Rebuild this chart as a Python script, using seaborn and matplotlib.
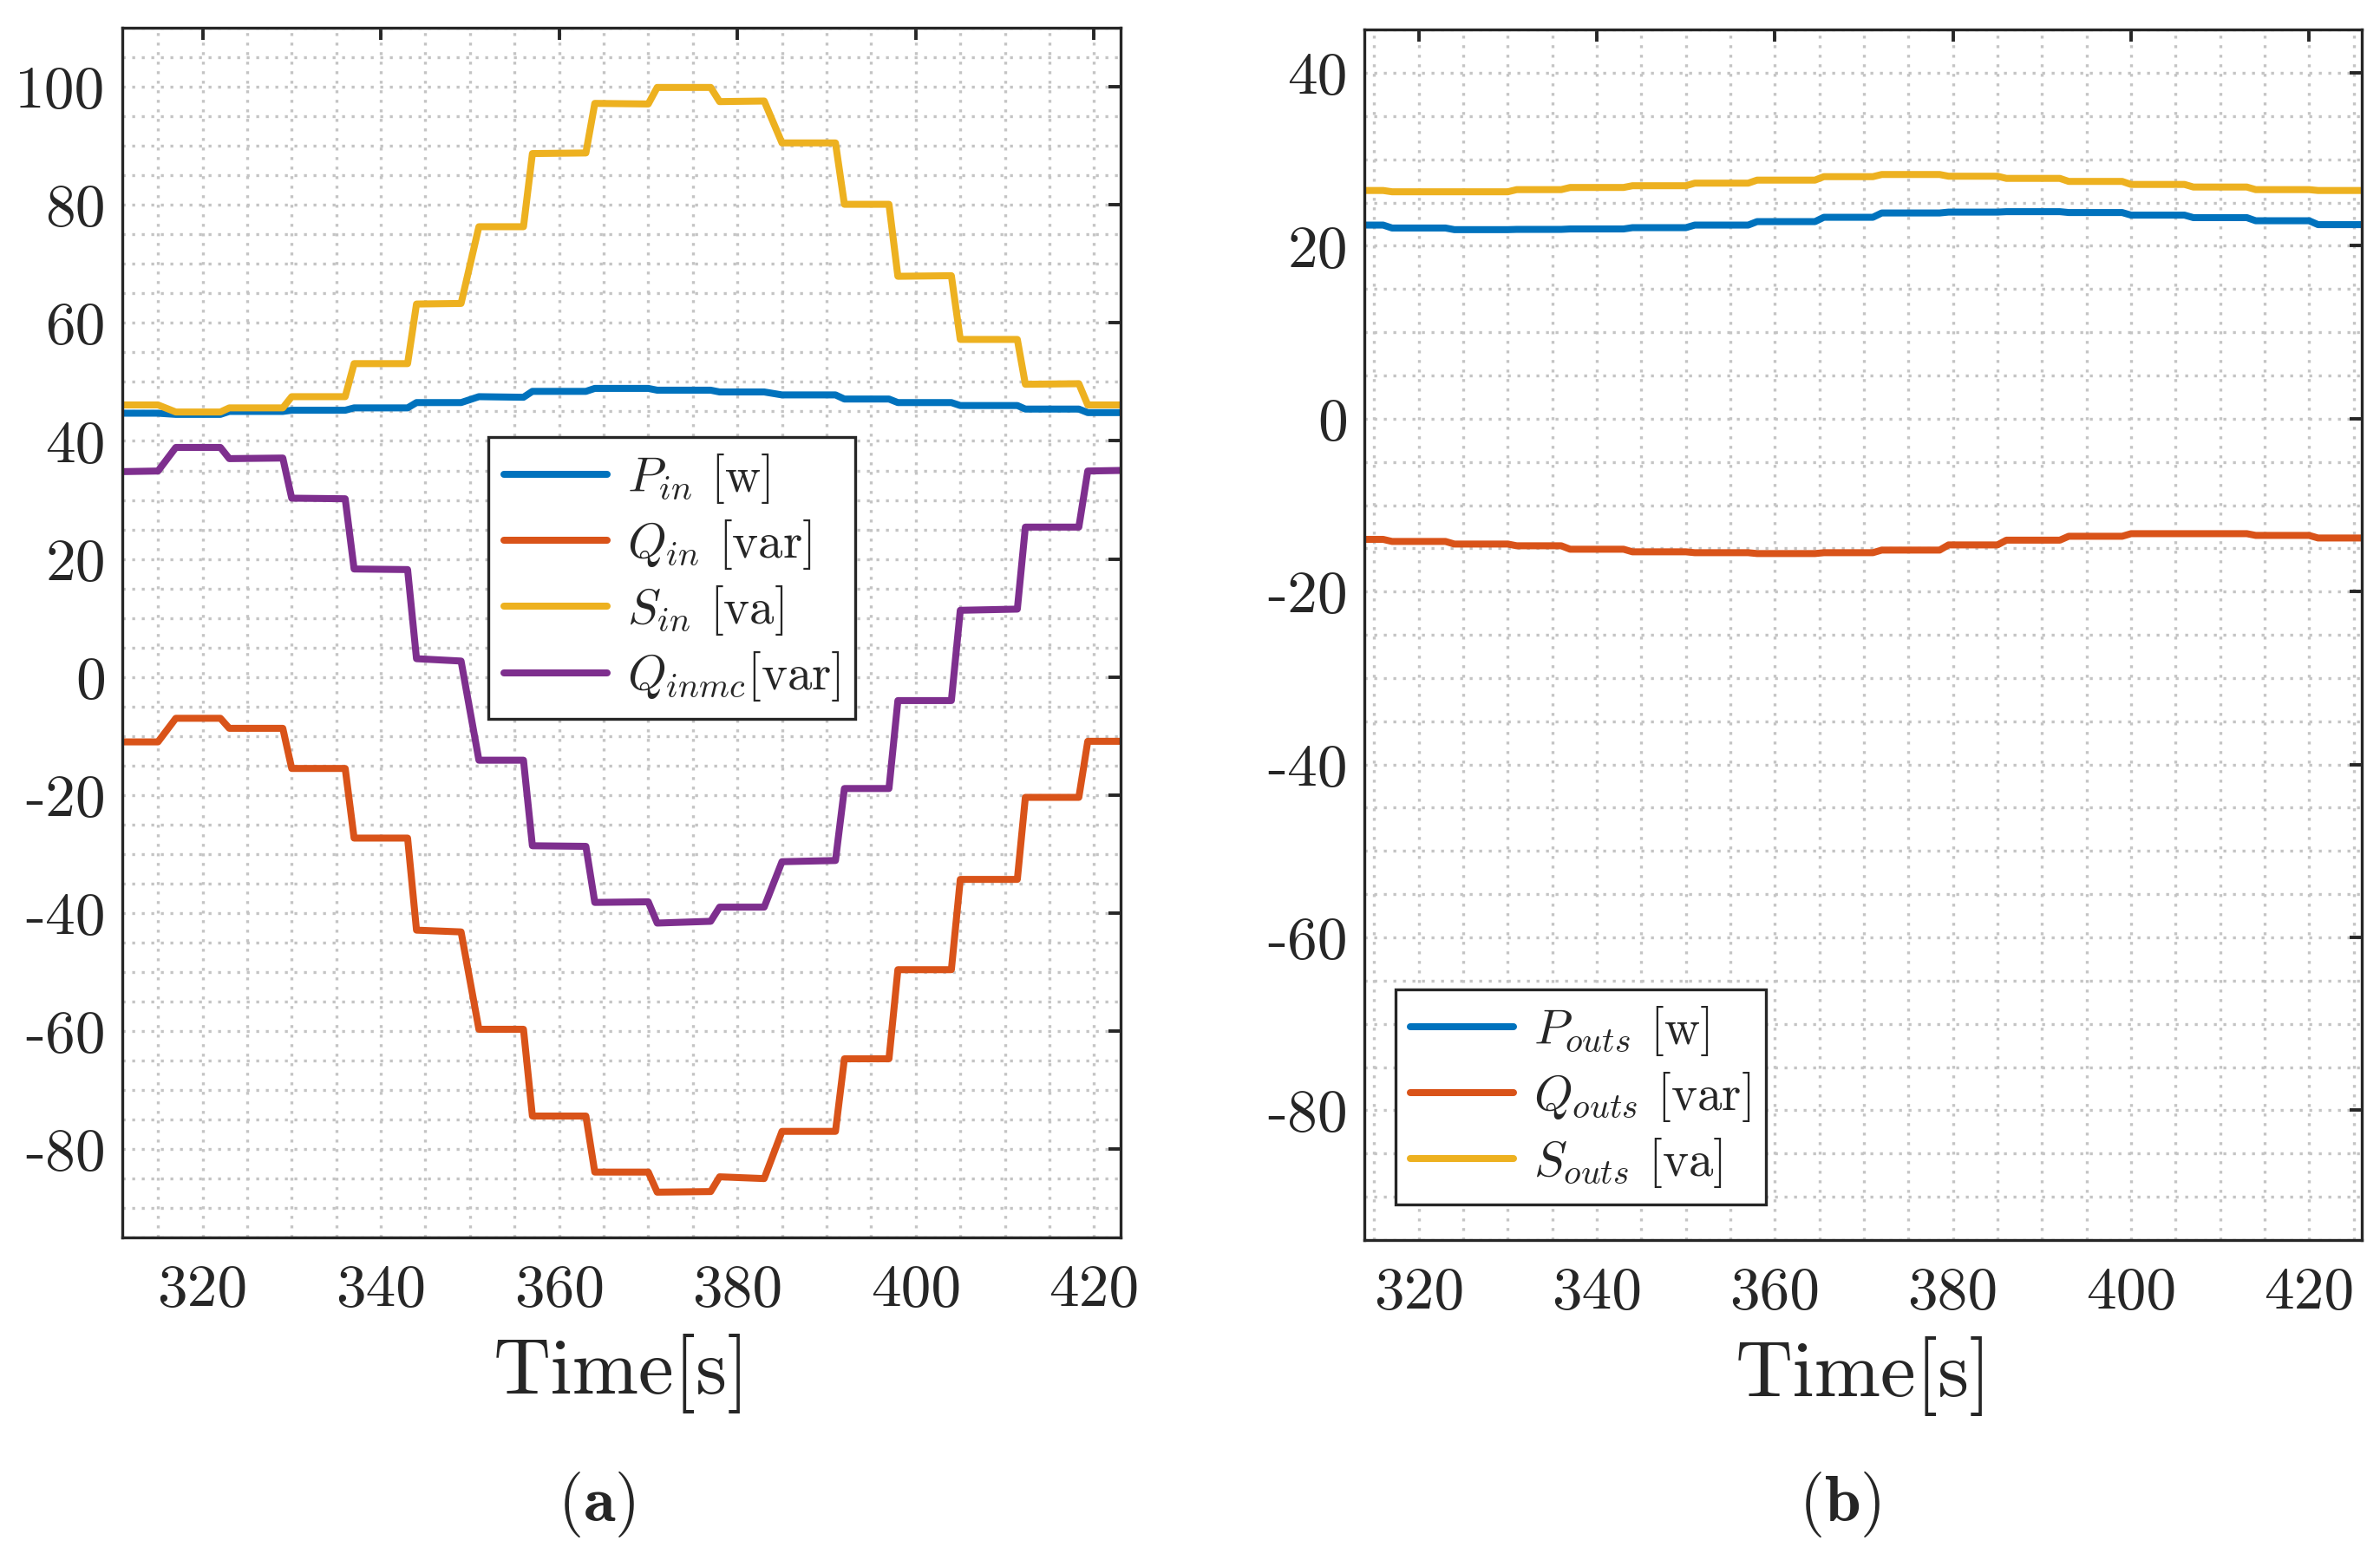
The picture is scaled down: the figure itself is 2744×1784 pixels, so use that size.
import matplotlib
matplotlib.use("Agg")
import matplotlib.pyplot as plt
from matplotlib.ticker import MultipleLocator
import seaborn as sns

# ---------------------------------------------------------------------
# Dados (patamares: início/fim de cada degrau)
# ---------------------------------------------------------------------
# (a) grandezas de entrada
tempo_a = [311, 315, 317, 322, 323, 329, 330, 336, 337, 343, 344, 349, 351, 356,
           357, 363, 364, 370, 371, 377, 378, 383, 385, 391, 392, 397, 398, 404,
           405, 411.4, 412.3, 418.3, 419.3, 423]
p_in = [44.7, 44.7, 44.5, 44.5, 45.0, 45.0, 45.2, 45.2, 45.6, 45.6, 46.5, 46.5,
        47.5, 47.4, 48.4, 48.4, 48.9, 48.9, 48.6, 48.6, 48.3, 48.3, 47.8, 47.8,
        47.1, 47.1, 46.5, 46.5, 46.0, 46.0, 45.4, 45.4, 44.8, 44.8]
q_in = [-11, -11, -7, -7, -8.7, -8.7, -15.5, -15.5, -27.3, -27.3, -42.9, -43.2,
        -59.7, -59.7, -74.4, -74.4, -83.9, -83.9, -87.3, -87.2, -84.7, -85.0,
        -77.0, -77.0, -64.7, -64.7, -49.6, -49.6, -34.3, -34.3, -20.4, -20.4,
        -10.9, -10.9]
s_in = [46.1, 46.1, 44.9, 44.9, 45.6, 45.6, 47.5, 47.5, 53.1, 53.1, 63.2, 63.3,
        76.3, 76.3, 88.7, 88.8, 97.2, 97.1, 99.9, 99.9, 97.5, 97.6, 90.5, 90.5,
        80.1, 80.1, 67.9, 68.0, 57.2, 57.2, 49.6, 49.7, 46.1, 46.1]
q_inmc = [34.8, 34.9, 38.9, 38.9, 37.0, 37.1, 30.3, 30.2, 18.3, 18.2, 3.1, 2.7,
          -14.1, -14.1, -28.6, -28.7, -38.2, -38.1, -41.7, -41.4, -39.0, -39.0,
          -31.3, -31.1, -18.9, -18.9, -4.0, -4.0, 11.3, 11.5, 25.4, 25.4, 34.9, 35.0]

# (b) grandezas de saída
tempo_b = [313.9, 316, 317, 323, 324, 330, 331, 336, 337, 343, 344, 350, 351, 357,
           358, 364.5, 365.5, 371, 372, 378.5, 379.5, 385, 386, 392, 393, 399,
           400, 406, 407, 413, 414, 420, 421, 425.9]
p_outs = [22.4, 22.4, 22.06, 22.06, 21.87, 21.87, 21.9, 21.9, 21.95, 21.95,
          22.1, 22.1, 22.4, 22.4, 22.8, 22.8, 23.3, 23.3, 23.8, 23.8, 23.9, 23.9,
          23.95, 23.95, 23.85, 23.85, 23.55, 23.55, 23.26, 23.26, 22.9, 22.9,
          22.45, 22.45]
q_outs = [-13.96, -13.96, -14.2, -14.2, -14.5, -14.5, -14.7, -14.7, -15.1, -15.1,
          -15.4, -15.4, -15.5, -15.5, -15.6, -15.6, -15.5, -15.5, -15.2, -15.2,
          -14.6, -14.6, -14.05, -14.05, -13.6, -13.6, -13.3, -13.3, -13.3, -13.3,
          -13.5, -13.5, -13.8, -13.8]
s_outs = [26.4, 26.4, 26.25, 26.25, 26.25, 26.25, 26.5, 26.5, 26.75, 26.75,
          26.95, 26.95, 27.25, 27.25, 27.6, 27.6, 28.0, 28.0, 28.25, 28.25,
          28.05, 28.05, 27.8, 27.8, 27.45, 27.45, 27.1, 27.1, 26.8, 26.8,
          26.5, 26.5, 26.4, 26.4]

labels_a = [r'$P_{in}$ [w]', r'$Q_{in}$ [var]', r'$S_{in}$ [va]', r'$Q_{inmc}$[var]']
labels_b = [r'$P_{outs}$ [w]', r'$Q_{outs}$ [var]', r'$S_{outs}$ [va]']
cores = ['#0072BD', '#D95319', '#EDB120', '#7E2F8E']

# ---------------------------------------------------------------------
sns.set_style("white")
plt.rcParams['font.family'] = ['cmr10', 'DejaVu Serif']
plt.rcParams['mathtext.fontset'] = 'cm'
plt.rcParams['axes.unicode_minus'] = False
plt.rcParams['axes.formatter.use_mathtext'] = False

fig = plt.figure(figsize=(13.72, 8.92), dpi=200)
ax_a = fig.add_axes([0.0514, 0.200, 0.4195, 0.782])
ax_b = fig.add_axes([0.5733, 0.1985, 0.419, 0.7823])

LW = 2.9


def estilo_eixo(ax, xlim, ylim, yticks):
    ax.set_xlim(*xlim)
    ax.set_ylim(*ylim)
    ax.set_xticks([320, 340, 360, 380, 400, 420])
    ax.set_yticks(yticks)
    ax.xaxis.set_minor_locator(MultipleLocator(5))
    ax.yaxis.set_minor_locator(MultipleLocator(5))
    ax.grid(which='both', linestyle=(0, (1, 2.3)), color='#c4c4c4', linewidth=1.2)
    ax.set_axisbelow(True)
    ax.tick_params(which='major', direction='in', top=True, right=True,
                   length=5, width=1.4, color='#262626', labelsize=25,
                   labelcolor='#262626')
    ax.tick_params(axis='x', which='major', pad=11)
    ax.tick_params(axis='y', which='major', pad=7)
    ax.tick_params(which='minor', length=0)
    for sp in ax.spines.values():
        sp.set_color('#262626')
        sp.set_linewidth(1.2)
    ax.set_xlabel('Time[s]', fontsize=33, labelpad=7, color='#262626')
    ax.set_ylabel('')


# (a)
for vals, cor, lab in zip([p_in, q_in, s_in, q_inmc], cores, labels_a):
    sns.lineplot(x=tempo_a, y=vals, ax=ax_a, color=cor, linewidth=LW, label=lab)
estilo_eixo(ax_a, (311, 423), (-95, 110), list(range(-80, 101, 20)))
ax_a.legend(loc='upper left', bbox_to_anchor=(0.367, 0.662), fontsize=20.5,
            frameon=True, fancybox=False, framealpha=1, edgecolor='#262626',
            handlelength=2.1, handletextpad=0.4, borderpad=0.3,
            labelspacing=0.25, borderaxespad=0)

# (b)
for vals, cor, lab in zip([p_outs, q_outs, s_outs], cores, labels_b):
    sns.lineplot(x=tempo_b, y=vals, ax=ax_b, color=cor, linewidth=LW, label=lab)
estilo_eixo(ax_b, (313.9, 425.9), (-95, 45), list(range(-80, 41, 20)))
ax_b.legend(loc='lower left', bbox_to_anchor=(0.031, 0.029), fontsize=20.5,
            frameon=True, fancybox=False, framealpha=1, edgecolor='#262626',
            handlelength=2.1, handletextpad=0.4, borderpad=0.3,
            labelspacing=0.25, borderaxespad=0)

for leg in (ax_a.get_legend(), ax_b.get_legend()):
    leg.get_frame().set_linewidth(1.2)
    for ln in leg.get_lines():
        ln.set_linewidth(LW)

fig.text(0.2507, 0.0275, r'($\mathbf{a}$)', ha='center', va='center',
         fontsize=27, color='#262626')
fig.text(0.773, 0.0275, r'($\mathbf{b}$)', ha='center', va='center',
         fontsize=27, color='#262626')

fig.savefig('out.png', dpi=200)
plt.close(fig)
